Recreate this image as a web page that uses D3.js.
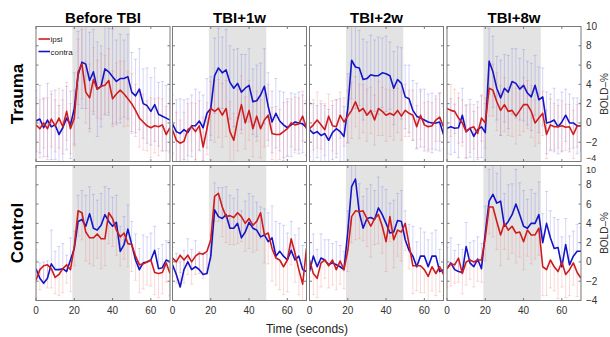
<!DOCTYPE html>
<html>
<head>
<meta charset="utf-8">
<script src="https://cdn.jsdelivr.net/npm/d3@7"></script>
<style>
  body { margin: 0; background: #fff; }
  text { font-family: "Liberation Sans", Arial, sans-serif; }
</style>
</head>
<body>
<svg id="chart" width="610" height="337"></svg>
<script>
// time samples (seconds)
const time = [0,2,4,6,8,10,12,14,16,18,20,22,24,26,28,30,32,34,36,38,40,42,44,46,48,50,52,54,56,58,60,62,64,66,68,70];
const columns = ["Before TBI", "TBI+1w", "TBI+2w", "TBI+8w"];
const rows = ["Trauma", "Control"];
const yTicks = [-4, -2, 0, 2, 4, 6, 8, 10];
const xTicks = [0, 20, 40, 60];
const stimulus = [19, 49];

// Trauma row
const traumaBeforeContra = [0.2,0.4,-0.5,0.3,-0.4,-0.2,-1.2,-0.5,0.5,-0.2,1.5,5.0,6.3,6.1,4.4,5.3,3.5,3.8,5.6,5.3,4.8,4.3,4.6,4.6,4.8,3.2,2.8,3.5,2.0,1.8,1.2,1.9,0.9,0.7,0.5,0.3];
const traumaBeforeIpsi   = [-0.2,-0.6,0.0,-0.6,0.4,-0.3,0.5,-0.4,1.2,-0.6,0.5,5.3,6.1,3.2,2.6,4.5,3.5,3.8,3.9,4.4,2.5,3.0,3.4,3.0,2.5,2.0,1.3,0.5,0.1,-0.3,-0.5,-0.3,-0.4,-0.2,-1.2,-0.5];
const trauma1wContra = [-0.1,-0.9,-1.1,-0.7,-1.0,-0.3,-0.3,0.2,-0.5,1.0,1.5,4.9,5.7,5.2,5.5,4.2,3.6,4.1,3.2,3.6,3.9,2.2,2.3,2.9,3.8,1.7,0.1,1.0,0.2,-0.2,-0.5,-0.2,0.1,0.0,-0.1,-0.5];
const trauma1wIpsi   = [-0.7,-1.8,-2.1,-1.9,-0.7,-0.4,-0.9,-0.3,-2.5,-0.6,1.5,1.2,1.5,0.8,1.5,-0.9,-1.8,0.3,1.9,0.0,1.3,-0.6,0.7,-0.6,0.3,0.8,-1.1,-1.2,-1.2,-0.9,-0.6,0.0,-0.2,-0.1,0.7,-0.6];
const trauma2wContra = [-0.7,-1.1,-0.9,-1.3,-1.1,-1.8,-1.0,-0.6,-0.9,-1.4,1.5,6.5,5.8,5.7,4.5,4.6,5.0,4.9,4.9,5.2,5.1,4.9,3.6,4.5,4.1,2.7,2.5,1.3,0.7,0.5,0.3,0.1,0.0,0.0,0.1,-1.2];
const trauma2wIpsi   = [-0.6,-0.2,0.3,-0.2,-0.7,0.7,-0.3,-0.4,0.8,0.1,0.7,1.3,2.2,1.2,1.5,0.8,1.3,0.3,1.5,1.2,0.8,1.0,0.8,1.3,0.7,1.3,1.0,0.8,-0.4,0.8,-0.2,-0.4,-0.3,0.3,0.6,-0.4];
const trauma8wContra = [-0.55,-0.4,-0.55,-0.5,0.8,-0.9,-0.55,-1.4,-0.7,-0.4,-1.0,6.4,5.3,3.6,2.6,3.6,3.2,4.3,4.1,3.5,3.9,3.1,2.7,3.9,2.4,2.7,0.0,0.1,0.3,-0.4,0.1,0.8,0.0,0.0,-0.3,-0.3];
const trauma8wIpsi   = [1.5,1.3,1.2,0.5,0.0,-0.9,-0.55,-0.4,-1.1,0.5,0.0,3.6,3.4,2.2,1.3,1.9,1.2,1.3,0.7,1.3,1.9,1.9,1.2,0.0,0.5,1.0,-1.2,-0.2,-0.4,-0.4,-0.3,-0.45,-0.4,-1.2,-0.3,-0.3];

// Control row
const controlBeforeContra = [-0.7,-1.7,-2.2,-1.7,-0.2,-0.8,-0.8,-0.7,-1.0,0.2,1.4,4.2,4.4,3.7,5.0,3.5,3.3,3.8,4.9,4.2,3.7,4.1,1.1,1.8,3.4,1.8,0.2,-0.8,-0.1,0.0,0.2,1.2,-0.7,-0.6,0.2,0.0];
const controlBeforeIpsi   = [-1.9,-0.8,-0.4,-0.3,-0.7,-1.6,-1.3,-0.7,-0.3,-0.8,1.6,5.3,5.1,3.1,2.5,2.5,2.9,2.4,2.4,5.1,4.5,3.3,2.6,3.0,1.9,1.8,0.6,-0.3,-0.2,0.0,0.2,-1.1,-1.2,-1.1,-0.1,-1.2];
const control1wContra = [-0.3,-1.3,-2.6,-0.8,0.0,-0.8,-0.5,-0.8,-1.3,-1.2,0.6,5.4,4.7,4.5,4.9,3.5,3.5,4.0,2.5,3.1,4.1,3.5,3.3,2.6,2.8,2.1,2.5,0.6,1.1,0.6,0.2,1.2,0.2,0.6,-0.8,-1.0];
const control1wIpsi   = [0.4,0.0,0.7,0.2,0.7,0.0,0.6,0.9,0.8,1.1,2.3,6.8,7.1,5.7,4.7,4.8,4.6,5.1,4.7,4.0,4.5,3.8,4.2,5.1,2.8,3.0,1.4,0.4,0.2,-0.5,0.2,2.4,0.9,-0.8,-2.3,1.4];
const control2wContra = [-1.0,0.6,-0.5,0.4,0.2,-0.3,-0.1,-0.3,-0.5,-0.8,3.1,7.8,8.6,5.1,3.5,4.5,4.6,4.4,5.6,4.9,4.0,3.0,3.1,4.3,4.2,2.3,1.2,0.6,-0.5,0.6,0.6,-0.5,0.6,0.6,-1.0,-0.8];
const control2wIpsi   = [0.2,-1.2,-1.7,-0.1,0.2,-0.4,0.2,-0.8,0.1,-0.8,1.2,4.7,5.3,5.2,5.3,4.5,3.7,4.5,4.9,3.7,2.1,4.7,2.3,3.3,3.1,4.0,1.8,-0.4,-0.4,-0.4,-0.8,-1.5,-0.5,-1.2,-0.5,-1.3];
const control8wContra = [-0.7,-0.1,-0.8,-1.0,-1.1,1.6,-0.1,-0.5,0.3,-0.7,3.0,6.3,7.0,6.1,6.3,3.7,4.2,4.9,6.0,4.9,3.7,3.5,4.0,4.0,4.9,2.0,4.0,2.5,1.4,1.5,-0.5,1.8,-0.3,0.6,1.1,1.1];
const control8wIpsi   = [-0.7,-0.2,-0.3,0.4,-1.2,0.0,0.2,0.0,0.2,0.2,2.5,5.7,5.7,4.2,2.8,4.0,3.3,3.7,3.0,3.1,2.1,3.3,2.8,2.8,3.5,-0.5,-0.8,0.2,-0.5,-1.0,0.0,-1.3,-0.8,-0.1,-1.1,-1.7];

// error bar half-lengths (trauma: both sides; control: contra upward, ipsi downward)
const traumaBeforeContraErr = [3.2,3.5,3.0,3.8,3.4,3.6,3.0,3.9,3.3,3.5,3.7,4.5,4.8,4.6,5.0,4.4,4.9,4.2,4.7,4.5,4.9,4.3,4.6,4.0,4.4,4.1,3.8,4.2,3.6,3.9,3.5,3.8,3.3,3.6,3.4,3.2];
const traumaBeforeIpsiErr   = [2.8,3.0,2.6,3.2,2.9,2.7,3.1,2.8,3.0,2.6,2.9,3.4,3.6,3.2,3.5,3.3,3.0,3.4,3.1,3.3,2.9,3.2,3.0,3.4,2.8,3.1,2.7,3.0,2.9,2.6,3.1,2.8,3.0,2.7,2.9,2.6];
const trauma1wContraErr = [3.0,3.3,3.6,3.1,3.5,3.2,3.8,3.0,3.4,3.6,3.3,3.9,4.1,3.7,4.2,3.8,4.0,3.6,3.9,3.5,3.8,3.4,3.7,3.3,3.9,3.5,3.2,3.6,3.1,3.4,3.0,3.3,2.9,3.2,3.0,2.8];
const trauma1wIpsiErr   = [2.6,2.9,2.4,3.0,2.7,2.5,2.9,2.6,3.1,2.7,2.8,3.2,3.0,3.3,2.9,3.1,2.8,3.2,3.0,2.7,3.1,2.9,2.6,3.0,2.8,3.2,2.7,2.9,2.6,3.0,2.8,2.5,2.9,2.7,2.6,2.8];
const trauma2wContraErr = [2.8,3.1,2.7,3.3,2.9,3.2,2.8,3.0,3.4,3.1,3.6,4.0,4.3,3.9,4.2,3.8,4.1,3.7,4.0,3.6,3.9,3.5,3.8,3.4,3.7,3.3,3.5,3.1,3.4,3.0,3.2,2.9,3.1,2.8,3.0,2.9];
const trauma2wIpsiErr   = [2.4,2.6,2.9,2.5,2.7,2.3,2.6,2.8,2.4,2.5,2.7,2.9,2.6,2.8,2.5,2.7,2.4,2.6,2.8,2.5,2.7,2.4,2.6,2.3,2.5,2.7,2.4,2.6,2.2,2.5,2.3,2.6,2.4,2.2,2.5,2.3];
const trauma8wContraErr = [2.6,2.9,2.5,3.1,2.8,2.7,3.0,2.6,2.9,3.2,3.0,3.4,3.7,3.3,3.9,3.5,3.8,3.4,3.6,3.2,3.7,3.3,3.5,3.1,3.4,3.0,3.2,2.9,3.3,2.8,3.1,2.7,3.0,2.6,2.9,2.7];
const trauma8wIpsiErr   = [2.5,2.7,2.3,2.6,2.4,2.8,2.5,2.3,2.7,2.4,2.6,2.9,2.7,3.0,2.6,2.8,2.5,2.7,2.9,2.6,2.8,2.5,2.7,2.4,2.6,2.3,2.5,2.7,2.4,2.2,2.6,2.4,2.3,2.5,2.2,2.4];
const controlBeforeContraErr = [2.0,1.6,2.2,1.8,3.5,1.9,2.4,2.6,1.7,2.3,1.8,2.7,3.0,3.2,2.8,3.5,3.1,3.3,2.9,3.4,3.0,2.8,2.6,2.9,2.5,2.4,2.7,2.2,2.9,2.6,2.8,2.5,2.1,2.4,2.0,2.2];
const controlBeforeIpsiErr   = [1.8,2.1,1.9,2.4,2.0,1.7,2.2,2.5,1.9,2.3,2.0,2.6,2.8,3.0,2.7,2.9,2.5,3.1,2.8,3.2,2.9,2.6,3.0,2.7,2.4,2.8,2.5,2.9,2.6,2.4,2.7,2.3,2.5,2.2,2.0,2.3];
const control1wContraErr = [1.8,2.2,2.6,2.0,2.4,2.1,2.7,1.9,2.3,2.0,2.2,2.8,3.0,3.2,2.9,3.4,3.1,3.5,2.8,3.2,3.0,3.3,2.9,3.1,2.7,3.0,3.3,3.6,2.9,3.2,2.8,3.0,2.6,2.9,2.5,2.7];
const control1wIpsiErr   = [1.9,2.2,1.8,2.4,2.0,2.3,1.9,2.1,2.5,2.2,2.0,2.6,2.9,3.1,2.7,3.0,2.8,3.2,2.6,2.9,3.1,2.8,3.0,2.7,2.9,3.2,3.4,2.8,3.1,2.9,3.3,2.7,3.0,2.6,2.4,2.8];
const control2wContraErr = [1.9,2.3,1.8,2.5,2.1,2.6,2.0,2.4,2.2,1.9,2.2,2.5,2.8,3.0,3.3,3.1,3.4,3.0,3.2,2.9,3.5,3.1,3.3,2.8,3.2,3.0,2.7,3.1,2.6,2.9,2.5,2.8,2.4,2.7,2.3,2.6];
const control2wIpsiErr   = [1.8,2.2,2.0,2.5,1.9,2.3,2.6,2.1,2.4,2.0,2.2,2.7,3.0,2.8,3.1,2.9,3.2,2.7,3.0,2.8,3.1,2.6,2.9,2.7,3.0,2.8,2.5,2.9,2.6,2.8,2.4,2.7,2.5,2.3,2.6,2.2];
const control8wContraErr = [2.2,2.6,2.0,2.8,2.4,2.5,2.1,2.7,2.3,2.6,2.8,3.3,3.6,3.1,3.7,3.4,3.8,3.2,3.6,3.3,3.7,3.0,3.5,3.1,3.4,3.0,3.3,2.8,3.2,2.9,3.1,2.7,3.0,2.6,2.8,2.5];
const control8wIpsiErr   = [2.0,2.3,1.9,2.5,2.1,2.4,2.0,2.6,2.2,2.3,2.4,2.8,3.1,2.9,3.2,2.7,3.0,2.8,3.1,2.6,2.9,2.7,3.0,2.5,2.8,3.0,2.7,2.9,2.5,2.8,2.6,2.4,2.7,2.3,2.5,2.2];

// panel table built from the arrays above
const panels = [
  { row: 0, col: 0, contra: traumaBeforeContra, ipsi: traumaBeforeIpsi, contraErr: traumaBeforeContraErr, ipsiErr: traumaBeforeIpsiErr },
  { row: 0, col: 1, contra: trauma1wContra, ipsi: trauma1wIpsi, contraErr: trauma1wContraErr, ipsiErr: trauma1wIpsiErr },
  { row: 0, col: 2, contra: trauma2wContra, ipsi: trauma2wIpsi, contraErr: trauma2wContraErr, ipsiErr: trauma2wIpsiErr },
  { row: 0, col: 3, contra: trauma8wContra, ipsi: trauma8wIpsi, contraErr: trauma8wContraErr, ipsiErr: trauma8wIpsiErr },
  { row: 1, col: 0, contra: controlBeforeContra, ipsi: controlBeforeIpsi, contraErr: controlBeforeContraErr, ipsiErr: controlBeforeIpsiErr },
  { row: 1, col: 1, contra: control1wContra, ipsi: control1wIpsi, contraErr: control1wContraErr, ipsiErr: control1wIpsiErr },
  { row: 1, col: 2, contra: control2wContra, ipsi: control2wIpsi, contraErr: control2wContraErr, ipsiErr: control2wIpsiErr },
  { row: 1, col: 3, contra: control8wContra, ipsi: control8wIpsi, contraErr: control8wContraErr, ipsiErr: control8wIpsiErr }
];

const colLeft = [36, 172.5, 309.5, 447];
const rowTop = [26.5, 165.5];
const panelW = 134, panelH = 135;
const red = "#d01c1c", blue = "#1414c8";
const redErr = "rgba(235,130,130,0.3)", blueErr = "rgba(120,120,235,0.3)";

const svg = d3.select("#chart");
const defs = svg.append("defs");

panels.forEach((p, i) => {
  const x = d3.scaleLinear().domain([0, 70]).range([colLeft[p.col], colLeft[p.col] + panelW]);
  const y = d3.scaleLinear().domain([-4, 10]).range([rowTop[p.row] + panelH, rowTop[p.row]]);

  defs.append("clipPath").attr("id", "clip" + i)
    .append("rect")
    .attr("x", x(0)).attr("y", y(10))
    .attr("width", x(70) - x(0)).attr("height", y(-4) - y(10));

  const g = svg.append("g").attr("clip-path", `url(#clip${i})`);

  // stimulus block
  g.append("rect")
    .attr("x", x(stimulus[0])).attr("y", y(10))
    .attr("width", x(stimulus[1]) - x(stimulus[0]))
    .attr("height", y(-4) - y(10))
    .attr("fill", "#e3e3e3");

  // error bars
  const drawErr = (vals, errs, color, up, down) => {
    const eg = g.append("g").attr("stroke", color).attr("stroke-width", 1).attr("fill", "none");
    vals.forEach((v, k) => {
      const top = v + (up ? errs[k] : 0);
      const bot = v - (down ? errs[k] : 0);
      const cx = x(time[k]);
      eg.append("line").attr("x1", cx).attr("x2", cx).attr("y1", y(top)).attr("y2", y(bot));
      if (up) eg.append("line").attr("x1", cx - 1.6).attr("x2", cx + 1.6).attr("y1", y(top)).attr("y2", y(top));
      if (down) eg.append("line").attr("x1", cx - 1.6).attr("x2", cx + 1.6).attr("y1", y(bot)).attr("y2", y(bot));
    });
  };
  if (p.row === 0) {
    drawErr(p.contra, p.contraErr, blueErr, true, true);
    drawErr(p.ipsi, p.ipsiErr, redErr, true, true);
  } else {
    drawErr(p.contra, p.contraErr, blueErr, true, false);
    drawErr(p.ipsi, p.ipsiErr, redErr, false, true);
  }

  const line = d3.line().x((d, k) => x(time[k])).y(d => y(d));
  g.append("path").datum(p.contra).attr("d", line)
    .attr("fill", "none").attr("stroke", blue).attr("stroke-width", 1.6).attr("stroke-linejoin", "round");
  g.append("path").datum(p.ipsi).attr("d", line)
    .attr("fill", "none").attr("stroke", red).attr("stroke-width", 1.6).attr("stroke-linejoin", "round");

  // frame and inward ticks
  const fg = svg.append("g").attr("stroke", "#7a7a7a").attr("stroke-width", 1);
  fg.append("rect")
    .attr("x", x(0)).attr("y", y(10))
    .attr("width", x(70) - x(0)).attr("height", y(-4) - y(10))
    .attr("fill", "none");
  yTicks.forEach(t => {
    fg.append("line").attr("x1", x(0)).attr("x2", x(0) + 2.5).attr("y1", y(t)).attr("y2", y(t));
    fg.append("line").attr("x1", x(70)).attr("x2", x(70) - 2.5).attr("y1", y(t)).attr("y2", y(t));
  });
  xTicks.forEach(t => {
    fg.append("line").attr("x1", x(t)).attr("x2", x(t)).attr("y1", y(-4)).attr("y2", y(-4) - 2.5);
    fg.append("line").attr("x1", x(t)).attr("x2", x(t)).attr("y1", y(10)).attr("y2", y(10) + 2.5);
  });

  // x tick labels on bottom row
  if (p.row === 1) {
    xTicks.forEach(t => {
      svg.append("text").attr("x", x(t)).attr("y", y(-4) + 13)
        .attr("text-anchor", "middle").attr("font-size", 10).attr("fill", "#333")
        .text(t);
    });
  }
  // right y axis on last column (the two labels where the rows meet are smaller and pushed apart)
  if (p.col === 3) {
    yTicks.forEach(t => {
      let dy = 3.5, fs = 10;
      if (p.row === 0 && t === -4) { dy = -0.5; fs = 9; }
      if (p.row === 1 && t === 10) { dy = 7; fs = 9; }
      svg.append("text").attr("x", x(70) + 5).attr("y", y(t) + dy)
        .attr("font-size", fs).attr("fill", "#333")
        .text(t < 0 ? "\u2212" + Math.abs(t) : t);
    });
    svg.append("text")
      .attr("transform", `translate(${x(70) + 27},${y(3)}) rotate(-90)`)
      .attr("text-anchor", "middle").attr("font-size", 10).attr("fill", "#333")
      .text("BOLD\u2013%");
  }
  // column titles
  if (p.row === 0) {
    svg.append("text").attr("x", (x(0) + x(70)) / 2).attr("y", 23)
      .attr("text-anchor", "middle").attr("font-size", 15).attr("font-weight", "bold")
      .text(columns[p.col]);
  }
  // row labels
  if (p.col === 0) {
    svg.append("text")
      .attr("transform", `translate(23,${y(3)}) rotate(-90)`)
      .attr("text-anchor", "middle").attr("font-size", 17).attr("font-weight", "bold")
      .text(rows[p.row]);
  }
});

// legend in first panel
const legend = svg.append("g");
[["ipsi", red, 39], ["contra", blue, 51.5]].forEach(([label, color, ly]) => {
  legend.append("line").attr("x1", 38.5).attr("x2", 50).attr("y1", ly).attr("y2", ly)
    .attr("stroke", color).attr("stroke-width", 1.6);
  legend.append("text").attr("x", 50.5).attr("y", ly + 3).attr("font-size", 8).attr("fill", "#222").text(label);
});

svg.append("text").attr("x", 307).attr("y", 333)
  .attr("text-anchor", "middle").attr("font-size", 12).attr("fill", "#222")
  .text("Time (seconds)");
</script>
</body>
</html>
